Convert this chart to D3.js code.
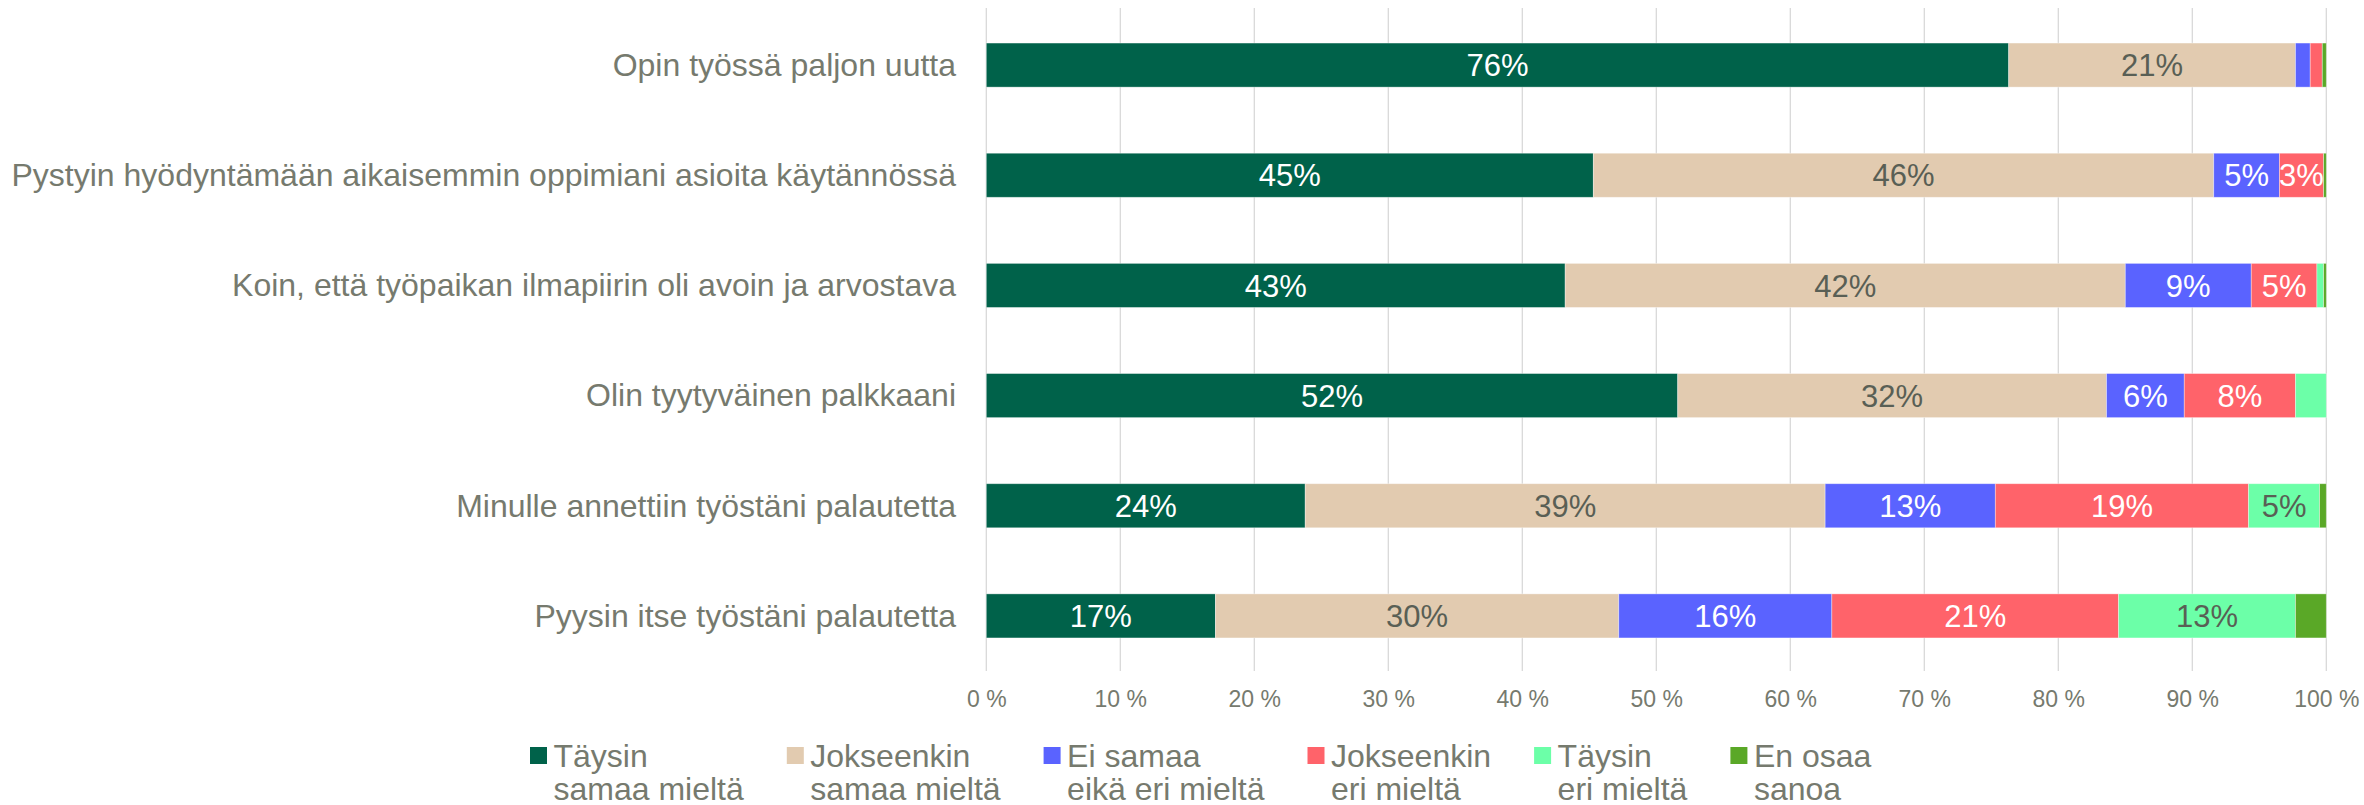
<!DOCTYPE html>
<html>
<head>
<meta charset="utf-8">
<script src="https://cdn.jsdelivr.net/npm/d3@7"></script>
<style>
  html, body { margin: 0; padding: 0; background: #ffffff; }
  svg { display: block; }
  text { font-family: "Liberation Sans", Arial, sans-serif; }
</style>
</head>
<body>
<svg id="chart" width="2364" height="805"></svg>
<script>
// ---- data ----
const categories = [
  "Opin työssä paljon uutta",
  "Pystyin hyödyntämään aikaisemmin oppimiani asioita käytännössä",
  "Koin, että työpaikan ilmapiirin oli avoin ja arvostava",
  "Olin tyytyväinen palkkaani",
  "Minulle annettiin työstäni palautetta",
  "Pyysin itse työstäni palautetta"
];
const seriesNames = [
  "Täysin samaa mieltä",
  "Jokseenkin samaa mieltä",
  "Ei samaa eikä eri mieltä",
  "Jokseenkin eri mieltä",
  "Täysin eri mieltä",
  "En osaa sanoa"
];
const legendLines = [
  ["Täysin", "samaa mieltä"],
  ["Jokseenkin", "samaa mieltä"],
  ["Ei samaa", "eikä eri mieltä"],
  ["Jokseenkin", "eri mieltä"],
  ["Täysin", "eri mieltä"],
  ["En osaa", "sanoa"]
];
const taysinSamaa     = [76.3, 45.3, 43.2, 51.6, 23.8, 17.1];
const jokseenkinSamaa = [21.4, 46.3, 41.8, 32.0, 38.8, 30.1];
const eiSamaaEikaEri  = [1.1, 4.9, 9.4, 5.8, 12.7, 15.9];
const jokseenkinEri   = [0.9, 3.3, 4.9, 8.3, 18.9, 21.4];
const taysinEri       = [0.0, 0.0, 0.5, 2.3, 5.3, 13.2];
const enOsaa          = [0.3, 0.2, 0.2, 0.0, 0.5, 2.3];
const tickValues = [0, 10, 20, 30, 40, 50, 60, 70, 80, 90, 100];

// ---- styles ----
const colors = ["#00624A", "#E2CBB0", "#5A63FF", "#FF636A", "#6CFFA8", "#5AA827"];
const labelColors = ["#ffffff", "#595F55", "#ffffff", "#ffffff", "#595F55", "#ffffff"];
const textGray = "#767A6E";

const seriesArrays = [taysinSamaa, jokseenkinSamaa, eiSamaaEikaEri, jokseenkinEri, taysinEri, enOsaa];
const table = categories.map((c, i) => {
  const row = { category: c };
  seriesNames.forEach((s, k) => row[s] = seriesArrays[k][i]);
  return row;
});

const svg = d3.select("#chart");
const x = d3.scaleLinear().domain([0, 100]).range([986.3, 2326.3]);
const y = d3.scaleBand().domain(categories).range([10, 671]).paddingInner(0.6).paddingOuter(0.3);

// gridlines
svg.append("g").selectAll("line").data(tickValues).join("line")
  .attr("x1", d => x(d)).attr("x2", d => x(d))
  .attr("y1", 8).attr("y2", 671)
  .attr("stroke", "#D9D9D9").attr("stroke-width", 1.3);

// bars
const stacked = d3.stack().keys(seriesNames)(table);
const layers = svg.append("g").selectAll("g").data(stacked).join("g")
  .attr("fill", (d, i) => colors[i]);
layers.selectAll("rect").data(d => d.map(v => ({ v, key: d.key }))).join("rect")
  .attr("x", d => x(d.v[0]))
  .attr("width", d => Math.max(0, x(d.v[1]) - x(d.v[0])))
  .attr("y", d => y(d.v.data.category))
  .attr("height", y.bandwidth())
  .attr("stroke", "#ffffff").attr("stroke-opacity", 0.45).attr("stroke-width", 0.8);

// value labels
const labels = svg.append("g");
stacked.forEach((layer, k) => {
  labels.selectAll(null).data(layer.filter(v => (v[1] - v[0]) >= 2.95)).join("text")
    .attr("x", v => x((v[0] + v[1]) / 2))
    .attr("y", v => y(v.data.category) + y.bandwidth() / 2)
    .attr("dy", "0.36em")
    .attr("text-anchor", "middle")
    .attr("font-size", 31)
    .attr("fill", labelColors[k])
    .text(v => Math.round(v[1] - v[0]) + "%");
});

// category axis labels
svg.append("g").selectAll("text").data(categories).join("text")
  .attr("x", 956)
  .attr("y", d => y(d) + y.bandwidth() / 2)
  .attr("dy", "0.34em")
  .attr("text-anchor", "end")
  .attr("font-size", 32)
  .attr("fill", textGray)
  .text(d => d);

// x axis
const xAxis = d3.axisBottom(x).tickValues(tickValues).tickSize(0).tickPadding(0)
  .tickFormat(d => d + " %");
const gx = svg.append("g").attr("transform", "translate(0,690)").call(xAxis);
gx.select(".domain").remove();
gx.selectAll("text")
  .attr("font-size", 23)
  .attr("fill", textGray)
  .attr("font-family", "Liberation Sans, Arial, sans-serif")
  .attr("dy", "0.75em");

// legend
const legend = svg.append("g");
const items = legend.selectAll("g").data(legendLines).join("g");
items.append("rect")
  .attr("x", 0).attr("y", 747).attr("width", 17).attr("height", 17)
  .attr("fill", (d, i) => colors[i]);
const lt = items.append("text")
  .attr("x", 23.5).attr("y", 767)
  .attr("font-size", 32)
  .attr("fill", textGray);
lt.selectAll("tspan").data(d => d).join("tspan")
  .attr("x", 23.5)
  .attr("dy", (d, i) => i === 0 ? 0 : 32.5)
  .text(d => d);
let cx = 530;
items.each(function() {
  const g = d3.select(this);
  g.attr("transform", `translate(${cx},0)`);
  let w = 0;
  g.selectAll("tspan").each(function() { w = Math.max(w, this.getComputedTextLength()); });
  cx += 23.5 + w + 43;
});
</script>
</body>
</html>
